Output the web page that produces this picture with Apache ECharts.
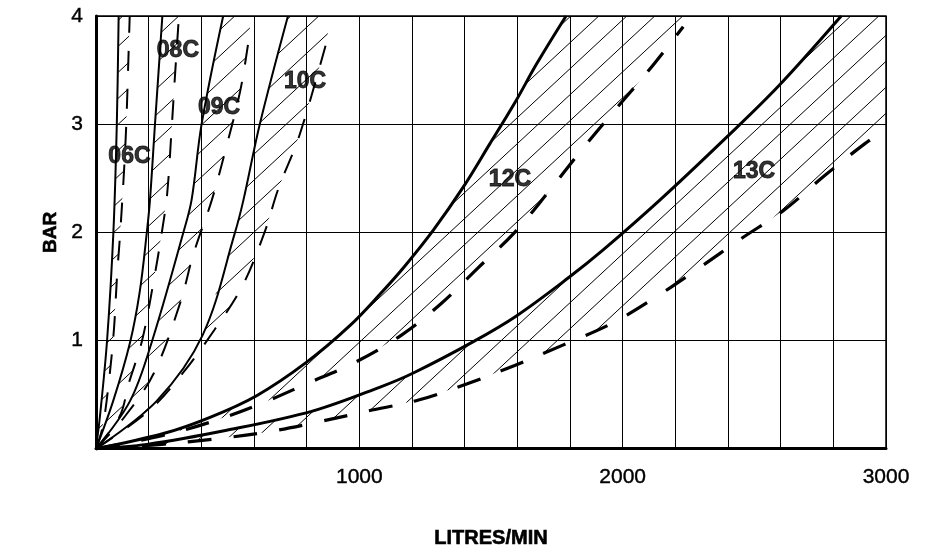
<!DOCTYPE html>
<html><head><meta charset="utf-8">
<script src="https://cdn.jsdelivr.net/npm/echarts/dist/echarts.min.js"></script>
<style>html,body{margin:0;padding:0;background:#fff}#c{width:928px;height:554px}</style>
</head><body><div id="c"></div>
<script>
// ---- data (flow in litres/min, pressure in bar) ----
const nozzles = ['06C', '08C', '09C', '10C', '12C', '13C'];

const solid06C = [[0,0],[15,0.3],[42,1.0],[66,2.0],[79,3.0],[86,4.0]];
const dashed06C = [[0,0],[25,0.2],[48,0.6],[68,1.1],[80,1.6],[92,2.0],[106,2.55],[115,3.0],[123,3.6],[128,4.0]];

const solid08C = [[0,0],[65,0.44],[129,0.98],[166,1.45],[193,2.0],[205,2.3],[224,3.0],[252,4.0]];
const dashed08C = [[0,0],[90,0.3],[124,0.6],[175,1.0],[219,1.55],[250,2.0],[270,2.35],[287,2.95],[300,3.45],[315,4.0]];

const solid09C = [[0,0],[129,0.44],[211,0.98],[332,2.0],[363,2.3],[401,3.0],[483,4.0]];
const dashed09C = [[0,0],[110,0.3],[220,0.7],[320,1.35],[370,1.8],[440,2.3],[496,2.8],[547,3.3],[575,3.7],[585,3.9]];

const solid10C = [[0,0],[230,0.44],[405,1.05],[528,2.0],[560,2.3],[622,3.0],[729,4.0]];
const dashed10C = [[0,0],[200,0.35],[330,0.7],[450,1.1],[555,1.5],[640,2.0],[692,2.4],[773,2.9],[880,3.8]];

const solid12C = [[0,0],[256,0.14],[433,0.29],[610,0.49],[800,0.8],[965,1.14],[1079,1.43],[1170,1.68],[1281,2.02],[1395,2.42],[1496,2.82],[1591,3.2],[1674,3.56],[1785,4.0]];
const dashed12C = [[0,0],[250,0.12],[440,0.25],[630,0.42],[800,0.6],[985,0.8],[1160,1.05],[1310,1.34],[1450,1.67],[1590,2.0],[1720,2.38],[1840,2.75],[1960,3.1],[2100,3.5],[2230,3.9]];

const solid13C = [[0,0],[193,0.04],[496,0.17],[825,0.35],[1079,0.57],[1205,0.7],[1433,0.99],[1598,1.23],[1794,1.58],[1927,1.84],[2142,2.3],[2395,2.88],[2591,3.35],[2830,4.0]];
const dashed13C = [[0,0],[250,0.04],[450,0.09],[640,0.15],[830,0.24],[1035,0.35],[1225,0.45],[1410,0.6],[1590,0.77],[1775,0.96],[1960,1.16],[2125,1.4],[2290,1.67],[2455,1.95],[2610,2.2],[2765,2.52],[2920,2.82],[3000,2.95]];

// label anchor points (data coordinates)
const labelPoints = [[127,2.70],[311,3.68],[467,3.15],[794,3.39],[1572,2.49],[2499,2.56]];

const xTickLabels = [1000, 2000, 3000];
const yTickLabels = [1, 2, 3, 4];

const solids = [solid06C, solid08C, solid09C, solid10C, solid12C, solid13C];
const dasheds = [dashed06C, dashed08C, dashed09C, dashed10C, dashed12C, dashed13C];

// ---- styling ----
const FONT = "'Liberation Sans', Arial, sans-serif";
function makeHatch(w, h) {
  const c = document.createElement('canvas');
  c.width = w; c.height = h;
  const g = c.getContext('2d');
  g.strokeStyle = '#000'; g.lineWidth = 1;
  for (const dx of [-w, 0, w]) {
    g.beginPath(); g.moveTo(dx, h); g.lineTo(dx + w, 0); g.stroke();
  }
  return c;
}
const hatch = { image: makeHatch(28, 26), repeat: 'repeat' };

const Y_MAX = 4;
const series = [];

series.push({
  type: 'custom',
  coordinateSystem: 'cartesian2d',
  data: nozzles.map((n, i) => [i, 0]),
  z: 1,
  silent: true,
  renderItem: function (params, api) {
    const i = api.value(0);
    const s = solids[i], d = dasheds[i];
    const pts = s.map(p => api.coord(p));
    const lastD = d[d.length - 1];
    if (lastD[1] < Y_MAX) pts.push(api.coord([lastD[0], Y_MAX]));
    d.slice().reverse().forEach(p => pts.push(api.coord(p)));
    return { type: 'polygon', shape: { points: pts }, style: { fill: hatch, stroke: null } };
  }
});

nozzles.forEach((n, i) => {
  const big = i >= 4;
  series.push({
    name: n + ' max', type: 'line', data: solids[i], showSymbol: false, smooth: 0.35, z: 3,
    lineStyle: { color: '#000', width: big ? 3 : 2 }
  });
  series.push({
    name: n + ' min', type: 'line', data: dasheds[i], showSymbol: false, smooth: 0.35, z: 3,
    lineStyle: { color: '#000', width: big ? 3.2 : 2, type: big ? [24, 22] : [20, 18] }
  });
});

series.push({
  type: 'scatter', z: 5, symbolSize: 0, itemStyle: { color: '#000' }, silent: true,
  data: labelPoints.map((p, i) => ({ name: nozzles[i], value: p })),
  label: { show: true, position: 'inside', formatter: p => p.name, color: '#000',
           textBorderColor: '#000', textBorderWidth: 0.9,
           fontFamily: FONT, fontWeight: 'bold', fontSize: 23 }
});

const tickText = { fontFamily: FONT, fontSize: 21, color: '#000', textBorderColor: '#000', textBorderWidth: 0.4 };
const nameText = { fontFamily: FONT, fontWeight: 'bold', color: '#000', textBorderColor: '#000', textBorderWidth: 0.6 };

const chart = echarts.init(document.getElementById('c'), null, { renderer: 'canvas' });
chart.setOption({
  animation: false,
  backgroundColor: '#fff',
  grid: { left: 96, right: 42, top: 16, bottom: 105, show: true, borderColor: '#000', borderWidth: 1.5, backgroundColor: 'transparent' },
  xAxis: {
    type: 'value', min: 0, max: 3000, interval: 200,
    name: 'LITRES/MIN', nameLocation: 'middle', nameGap: 80,
    nameTextStyle: Object.assign({ fontSize: 20 }, nameText),
    axisLine: { show: true, onZero: false, lineStyle: { color: '#000', width: 3 } },
    axisTick: { show: false },
    axisLabel: Object.assign({ margin: 18, formatter: v => xTickLabels.includes(v) ? String(v) : '' }, tickText),
    splitLine: { show: true, lineStyle: { color: '#000', width: 1 } }
  },
  yAxis: {
    type: 'value', min: 0, max: 4, interval: 1,
    name: 'BAR', nameLocation: 'middle', nameGap: 36, nameRotate: 90,
    nameTextStyle: Object.assign({ fontSize: 19 }, nameText),
    axisLine: { show: true, onZero: false, lineStyle: { color: '#000', width: 3 } },
    axisTick: { show: false },
    axisLabel: Object.assign({ margin: 13, formatter: v => yTickLabels.includes(v) ? String(v) : '' }, tickText),
    splitLine: { show: true, lineStyle: { color: '#000', width: 1 } }
  },
  series: series
});
</script>
</body></html>
